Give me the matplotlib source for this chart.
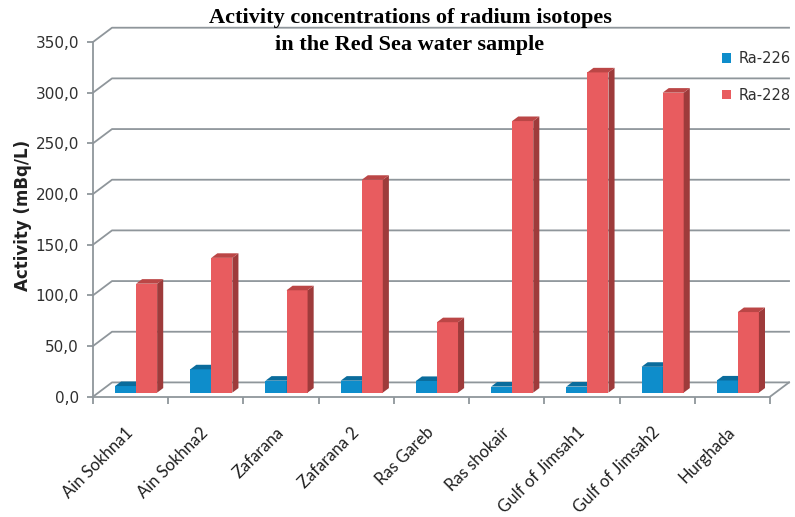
import numpy as np
import matplotlib.pyplot as plt
from matplotlib.patches import Polygon

# %%
stations = ['Ain Sokhna1', 'Ain Sokhna2', 'Zafarana', 'Zafarana 2', 'Ras Gareb',
            'Ras shokair', 'Gulf of Jimsah1', 'Gulf of Jimsah2', 'Hurghada']
ra226 = [6.5, 23.0, 11.8, 11.8, 11.5, 6.0, 6.0, 25.5, 12.0]
ra228 = [107.5, 133.0, 101.0, 210.0, 69.5, 268.0, 316.0, 296.0, 79.5]
yticks = [0, 50, 100, 150, 200, 250, 300, 350]

# %%
# pseudo-3D look (Excel style): back wall offset and bar depth
DX, DY = 0.253, 14.1        # wall offset in data units
BASE = 4.0                  # bars stand a bit behind the front edge
W = 0.28                    # bar width
DDX, DDY = 0.081, 4.5       # bar depth
grid_col = '#8F969B'

colors = {'Ra-226': ('#0E8DCB', '#0A6C9C', '#0A6C9C'),
          'Ra-228': ('#E85C5F', '#BB4646', '#9E3B3B')}

fig = plt.figure(figsize=(7.95, 5.17), dpi=100)
ax = fig.add_axes([93/795, 120.3/517, 677/795, 354.7/517])
ax.set_xlim(-0.5, 8.5)
ax.set_ylim(0, 350)

# back wall grid lines with the diagonals to the front axis
for v in yticks:
    ax.plot([-0.5, -0.5 + DX, 8.5 + DX], [v, v + DY, v + DY],
            color=grid_col, lw=1.3, clip_on=False, zorder=1)
ax.plot([8.5, 8.5 + DX], [0, DY], color=grid_col, lw=1.3, clip_on=False, zorder=1)

x = np.arange(len(stations))
for k, (name, vals) in enumerate([('Ra-226', ra226), ('Ra-228', ra228)]):
    front, top_c, side_c = colors[name]
    left = x - 0.2075 + k * W
    bars = ax.bar(left, vals, W, bottom=BASE, align='edge', color=front,
                  edgecolor='none', label=name, zorder=3 + k, clip_on=False)
    for b in bars:
        x0, y0 = b.get_x(), b.get_y()
        x1, y1 = x0 + b.get_width(), y0 + b.get_height()
        side = Polygon([(x1, y0), (x1 + DDX, y0 + DDY), (x1 + DDX, y1 + DDY), (x1, y1)],
                       closed=True, facecolor=side_c, edgecolor='none',
                       zorder=3 + k, clip_on=False)
        top = Polygon([(x0, y1), (x1, y1), (x1 + DDX, y1 + DDY), (x0 + DDX, y1 + DDY)],
                      closed=True, facecolor=top_c, edgecolor='none',
                      zorder=3 + k, clip_on=False)
        ax.add_patch(side)
        ax.add_patch(top)

# axes
for s in ['top', 'right']:
    ax.spines[s].set_visible(False)
for s in ['left', 'bottom']:
    ax.spines[s].set_color(grid_col)
    ax.spines[s].set_linewidth(1.3)

ax.set_yticks(yticks)
ax.set_yticklabels([f'{v:.1f}'.replace('.', ',') for v in yticks],
                   fontsize=11, color='#303030')
ax.tick_params(axis='y', length=4, width=1.3, color=grid_col, pad=6)

ax.set_xticks(np.arange(-0.5, 9, 1))
ax.set_xticklabels([])
ax.tick_params(axis='x', which='major', length=5, width=1.3, color=grid_col)
ax.set_xticks(x + 0.0, minor=True)
ax.set_xticklabels(stations, minor=True, fontsize=12, color='#202020',
                   family='Lato')
ax.tick_params(axis='x', which='minor', length=0, pad=24)
plt.setp(ax.get_xticklabels(minor=True), rotation=45, ha='right', va='center',
         rotation_mode='anchor')

fig.text(23/795, 1 - 215/517, 'Activity (mBq/L)', rotation=90, ha='center',
         va='center', fontsize=12, fontweight='bold', color='#202020')

fig.text(410/795, 1 - 18/517, 'Activity concentrations of radium isotopes',
         ha='center', va='center', fontsize=16, fontweight='bold',
         family='Liberation Serif')
fig.text(410/795, 1 - 45/517, 'in the Red Sea water sample',
         ha='center', va='center', fontsize=16, fontweight='bold',
         family='Liberation Serif')

leg = fig.legend(loc='upper left', bbox_to_anchor=(716/795, 1 - 45/517),
                 frameon=False, fontsize=10.5, handlelength=0.65, handleheight=0.65,
                 handletextpad=0.5, labelspacing=1.5, borderaxespad=0)
for t in leg.get_texts():
    t.set_color('#303030')

fig.savefig('out.png', dpi=100)
